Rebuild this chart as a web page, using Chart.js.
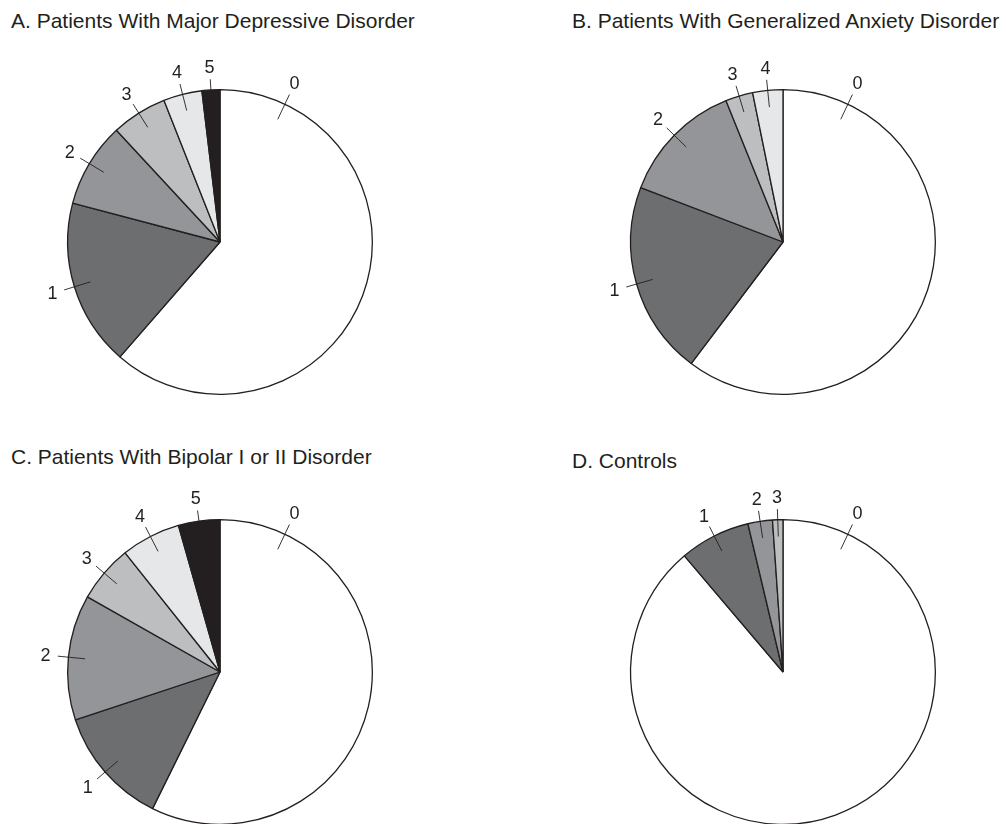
<!DOCTYPE html>
<html>
<head>
<meta charset="utf-8">
<script src="https://cdn.jsdelivr.net/npm/chart.js@4/dist/chart.umd.min.js"></script>
<style>
  html, body { margin: 0; padding: 0; background: #fff; overflow: hidden; }
  body { width: 1006px; height: 824px; position: relative; font-family: "Liberation Sans", Arial, sans-serif; color: #231f20; }
  .title { position: absolute; font-size: 21px; line-height: 21px; white-space: nowrap; }
  .box { position: absolute; width: 400px; height: 400px; }
</style>
</head>
<body>
<div class="title" style="left:11px; top:10px;" id="tA"></div>
<div class="title" style="left:572px; top:10px;" id="tB"></div>
<div class="title" style="left:11px; top:446px;" id="tC"></div>
<div class="title" style="left:572px; top:450px;" id="tD"></div>

<div class="box" style="left:20px; top:42px;"><canvas id="pieA"></canvas></div>
<div class="box" style="left:583px; top:42px;"><canvas id="pieB"></canvas></div>
<div class="box" style="left:20px; top:472px;"><canvas id="pieC"></canvas></div>
<div class="box" style="left:583px; top:472px;"><canvas id="pieD"></canvas></div>

<script>
// slice categories (number of ... per patient)
const sliceLabels = ["0", "1", "2", "3", "4", "5"];

// percentages
const mddValues = [61.4, 17.7, 9.0, 5.9, 4.1, 1.9];
const gadValues = [60.3, 20.5, 13.1, 2.9, 3.2];
const bipolarValues = [57.3, 12.6, 13.3, 6.1, 6.3, 4.4];
const controlValues = [88.8, 7.5, 2.6, 1.1];

const panelTitles = [
  "A. Patients With Major Depressive Disorder",
  "B. Patients With Generalized Anxiety Disorder",
  "C. Patients With Bipolar I or II Disorder",
  "D. Controls"
];

const sliceColors = ["#ffffff", "#6d6e70", "#939598", "#bcbec0", "#e6e7e8", "#231f20"];
const inkColor = "#231f20";

// draws the number labels with a short leader line
const leaderLabels = {
  id: "leaderLabels",
  afterDatasetsDraw(chart) {
    const { ctx } = chart;
    const meta = chart.getDatasetMeta(0);
    ctx.save();
    ctx.strokeStyle = inkColor;
    ctx.fillStyle = inkColor;
    ctx.lineWidth = 0.9;
    ctx.font = '18px "Liberation Sans", Arial, sans-serif';
    ctx.textAlign = "center";
    ctx.textBaseline = "middle";
    meta.data.forEach((arc, i) => {
      const { x, y, startAngle, endAngle, outerRadius } = arc.getProps(["x", "y", "startAngle", "endAngle", "outerRadius"], true);
      let a = (startAngle + endAngle) / 2;
      // big slice: label sits near its start, not at the middle
      if (endAngle - startAngle > Math.PI) a = startAngle + 0.44;
      const r = outerRadius;
      const inner = i === 5 ? r * 0.99 : r * 0.89;
      ctx.beginPath();
      ctx.moveTo(x + Math.cos(a) * inner, y + Math.sin(a) * inner);
      ctx.lineTo(x + Math.cos(a) * r * 1.07, y + Math.sin(a) * r * 1.07);
      ctx.stroke();
      ctx.fillText(chart.data.labels[i], x + Math.cos(a) * r * 1.15, y + Math.sin(a) * r * 1.15 + 1);
    });
    ctx.restore();
  }
};

function makePie(id, values) {
  return new Chart(document.getElementById(id), {
    type: "pie",
    data: {
      labels: sliceLabels.slice(0, values.length),
      datasets: [{
        data: values,
        backgroundColor: sliceColors.slice(0, values.length),
        borderColor: inkColor,
        borderWidth: 1.3
      }]
    },
    options: {
      animation: false,
      responsive: true,
      maintainAspectRatio: false,
      layout: { padding: 47 },
      plugins: {
        legend: { display: false },
        tooltip: { enabled: false }
      }
    },
    plugins: [leaderLabels]
  });
}

["tA", "tB", "tC", "tD"].forEach((id, i) => {
  document.getElementById(id).textContent = panelTitles[i];
});

makePie("pieA", mddValues);
makePie("pieB", gadValues);
makePie("pieC", bipolarValues);
makePie("pieD", controlValues);
</script>
</body>
</html>
